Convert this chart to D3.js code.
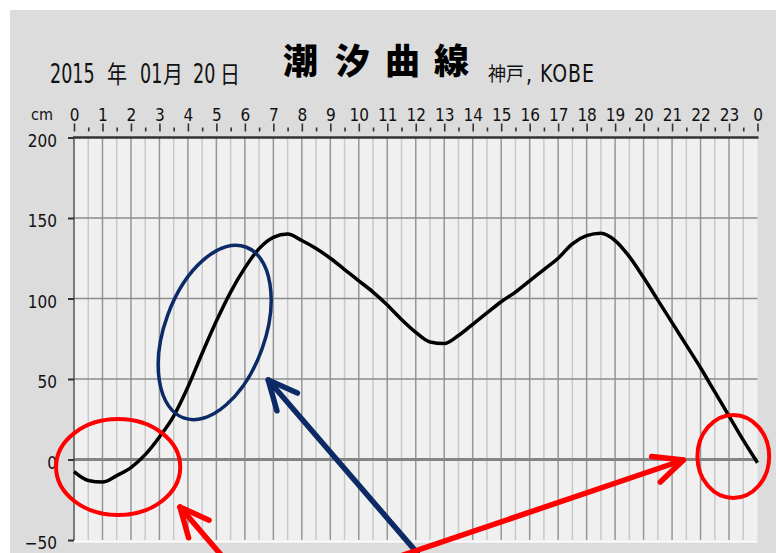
<!DOCTYPE html>
<html>
<head>
<meta charset="utf-8">
<script src="https://cdn.jsdelivr.net/npm/d3@7"></script>
<style>
  html, body { margin: 0; padding: 0; background: #ffffff; }
  svg { display: block; }
  .narrow { font-family: "Liberation Sans Narrow", "DejaVu Sans Condensed", "Arial Narrow", sans-serif; font-stretch: condensed; }
  .cond { font-family: "DejaVu Sans Condensed", "DejaVu Sans", sans-serif; font-stretch: condensed; }
  .cjk { font-family: "Noto Sans CJK JP", "Noto Sans CJK SC", sans-serif; }
</style>
</head>
<body>
<script>
// ---------- data ----------
const hours = [0,0.5,1,1.5,2,2.5,3,3.5,4,4.5,5,5.5,6,6.5,7,7.5,8,8.5,9,9.5,10,10.5,11,11.5,12,12.5,13,13.5,14,14.5,15,15.5,16,16.5,17,17.5,18,18.5,19,19.5,20,20.5,21,21.5,22,22.5,23,23.5,24];
const tideCm = [-7.5,-13,-14,-10,-5,3,14,27,45,66,86,104,119,131,138,140,136,131,125,118,111,104,96,87,79,73,72,77,84,91,98,104,111,118,125,134,139,140.5,136,126,113,99,85,71,57,42,27,12,-2];
const hourTicks = [0,1,2,3,4,5,6,7,8,9,10,11,12,13,14,15,16,17,18,19,20,21,22,23,24];
const hourLabels = ["0","1","2","3","4","5","6","7","8","9","10","11","12","13","14","15","16","17","18","19","20","21","22","23","0"];
const halfHourTicks = [0.5,1.5,2.5,3.5,4.5,5.5,6.5,7.5,8.5,9.5,10.5,11.5,12.5,13.5,14.5,15.5,16.5,17.5,18.5,19.5,20.5,21.5,22.5,23.5];
const cmTicks = [-50,0,50,100,150,200];
const titleDate = ["2015","年","01","月","20","日"];
const titleMain = ["潮","汐","曲","線"];
const titlePlace = ["神戸",", KOBE"];
// annotations in data units: [hour, cm, radiusHours, radiusCm]
const redCircles = [[1.55,-4.7,2.18,29.8],[23.15,1.9,1.26,25.8]];
const blueEllipse = [4.94,78.9,1.76,56.5,20];
// arrows: [tailHour, tailCm, tipHour, tipCm]
const blueArrows = [[12.05,-58,6.82,49.4]];
const redArrows = [[5.2,-60,3.72,-29.5],[11.45,-60,21.4,-0.3]];

// ---------- layout ----------
const W = 776, H = 553;
const svg = d3.select("body").append("svg").attr("width", W).attr("height", H);
svg.append("rect").attr("x", 0).attr("y", 0).attr("width", W).attr("height", H).attr("fill", "#ffffff");
svg.append("rect").attr("x", 10).attr("y", 10).attr("width", W - 10).attr("height", H - 10).attr("fill", "#dcdcdc");

const x = d3.scaleLinear().domain([0, 24]).range([74, 757.5]);
const y = d3.scaleLinear().domain([-50, 200]).range([540, 137.5]);

// plot background
svg.append("rect").attr("x", x(0)).attr("y", y(200)).attr("width", x(24) - x(0)).attr("height", y(-50) - y(200)).attr("fill", "#f0f0f0");
svg.append("line").attr("x1", x(0)).attr("x2", x(24)).attr("y1", y(-50) + 1.5).attr("y2", y(-50) + 1.5).attr("stroke", "#ffffff").attr("stroke-width", 2);

// vertical grid
svg.append("g").selectAll("line").data(halfHourTicks).join("line")
  .attr("x1", d => x(d)).attr("x2", d => x(d)).attr("y1", y(200)).attr("y2", y(-50))
  .attr("stroke", "#c9c9c9").attr("stroke-width", 1.5);
svg.append("g").selectAll("line").data(hourTicks.slice(1, 24)).join("line")
  .attr("x1", d => x(d)).attr("x2", d => x(d)).attr("y1", y(200)).attr("y2", y(-50))
  .attr("stroke", "#969696").attr("stroke-width", 1.5);
// horizontal grid
svg.append("g").selectAll("line").data([50, 100, 150]).join("line")
  .attr("x1", x(0)).attr("x2", x(24)).attr("y1", d => y(d)).attr("y2", d => y(d))
  .attr("stroke", "#8c8c8c").attr("stroke-width", 1.5);
svg.append("line").attr("x1", x(0)).attr("x2", x(24)).attr("y1", y(0)).attr("y2", y(0))
  .attr("stroke", "#858585").attr("stroke-width", 3);
// left edge
svg.append("line").attr("x1", x(0)).attr("x2", x(0)).attr("y1", y(200)).attr("y2", y(-50))
  .attr("stroke", "#555555").attr("stroke-width", 1.5);
// top axis line
svg.append("line").attr("x1", x(0) - 1).attr("x2", x(24) + 1).attr("y1", y(200)).attr("y2", y(200))
  .attr("stroke", "#333333").attr("stroke-width", 2.5);

// top axis (hours)
const topMajor = svg.append("g").attr("transform", `translate(0,${y(200) - 6})`)
  .call(d3.axisTop(x).tickValues(hourTicks).tickSize(8).tickPadding(3)
    .tickFormat((d, i) => hourLabels[i]));
const topMinor = svg.append("g").attr("transform", `translate(0,${y(200) - 6})`)
  .call(d3.axisTop(x).tickValues(halfHourTicks).tickSize(4).tickFormat(""));
[topMajor, topMinor].forEach(g => {
  g.select(".domain").remove();
  g.selectAll(".tick line").attr("stroke", "#333333").attr("stroke-width", 1.6);
});
topMajor.selectAll(".tick text").attr("class", "narrow").attr("font-size", 17).attr("fill", "#111111");

// left axis (cm)
const left = svg.append("g").attr("transform", `translate(${x(0)},0)`)
  .call(d3.axisLeft(y).tickValues(cmTicks).tickSize(6).tickPadding(11));
left.select(".domain").remove();
left.selectAll(".tick line").attr("stroke", "#333333").attr("stroke-width", 2);
left.selectAll(".tick text").attr("class", "narrow").attr("font-size", 17).attr("fill", "#111111").attr("dy", "0.52em");

svg.append("text").attr("class", "narrow").attr("x", 42).attr("y", 120).attr("text-anchor", "middle")
  .attr("font-size", 16).attr("fill", "#111111").text("cm");

// title: date pieces, condensed glyphs stretched vertically
const dateX = [50, 107, 140, 163, 193, 220];
svg.append("g").selectAll("text").data(titleDate).join("text")
  .attr("class", (d, i) => i % 2 === 0 ? "cond" : "cjk")
  .attr("transform", (d, i) => `translate(${dateX[i]},83) scale(1,${i % 2 === 0 ? 1.36 : 1.18})`)
  .attr("font-size", (d, i) => i % 2 === 0 ? 19.5 : 20)
  .attr("fill", "#111111").text(d => d);

const mainX = [283, 335, 385, 434];
svg.append("g").selectAll("text").data(titleMain).join("text")
  .attr("class", "cjk").attr("x", (d, i) => mainX[i]).attr("y", 74)
  .attr("font-size", 35).attr("font-weight", 900).attr("fill", "#000000")
  .text(d => d);

svg.append("text").attr("class", "cjk").attr("transform", "translate(488,81) scale(1,1.1)")
  .attr("font-size", 18).attr("fill", "#111111").text(titlePlace[0]);
svg.append("text").attr("class", "cond")
  .attr("transform", "translate(526,82) scale(1,1.2)")
  .attr("font-size", 21).attr("letter-spacing", 1).attr("fill", "#111111").text(titlePlace[1]);

// tide curve
const line = d3.line().x((d, i) => x(hours[i])).y(d => y(d)).curve(d3.curveMonotoneX);
svg.append("path").datum(tideCm).attr("d", line)
  .attr("fill", "none").attr("stroke", "#000000").attr("stroke-width", 3.5).attr("stroke-linejoin", "round");

// annotations
svg.append("g").selectAll("ellipse").data(redCircles).join("ellipse")
  .attr("cx", d => x(d[0])).attr("cy", d => y(d[1]))
  .attr("rx", d => x(d[2]) - x(0)).attr("ry", d => y(0) - y(d[3]))
  .attr("fill", "none").attr("stroke", "#ff0000").attr("stroke-width", 4);

svg.append("ellipse")
  .attr("transform", `translate(${x(blueEllipse[0])},${y(blueEllipse[1])}) rotate(${blueEllipse[4]})`)
  .attr("rx", x(blueEllipse[2]) - x(0)).attr("ry", y(0) - y(blueEllipse[3]))
  .attr("fill", "none").attr("stroke", "#0b2a66").attr("stroke-width", 3.5);

function drawArrows(data, color) {
  const g = svg.append("g").attr("stroke", color).attr("stroke-width", 5.5)
    .attr("stroke-linecap", "round").attr("fill", "none");
  data.forEach(a => {
    const tx = x(a[0]), ty = y(a[1]), hx = x(a[2]), hy = y(a[3]);
    const ang = Math.atan2(ty - hy, tx - hx);
    const L = 32, spread = 25 * Math.PI / 180;
    g.append("line").attr("x1", tx).attr("y1", ty).attr("x2", hx).attr("y2", hy);
    g.append("path").attr("stroke-linejoin", "round")
      .attr("d", d3.line()([
        [hx + L * Math.cos(ang - spread), hy + L * Math.sin(ang - spread)],
        [hx, hy],
        [hx + L * Math.cos(ang + spread), hy + L * Math.sin(ang + spread)]
      ]));
  });
}
drawArrows(blueArrows, "#0b2a66");
drawArrows(redArrows, "#ff0000");
</script>
</body>
</html>
